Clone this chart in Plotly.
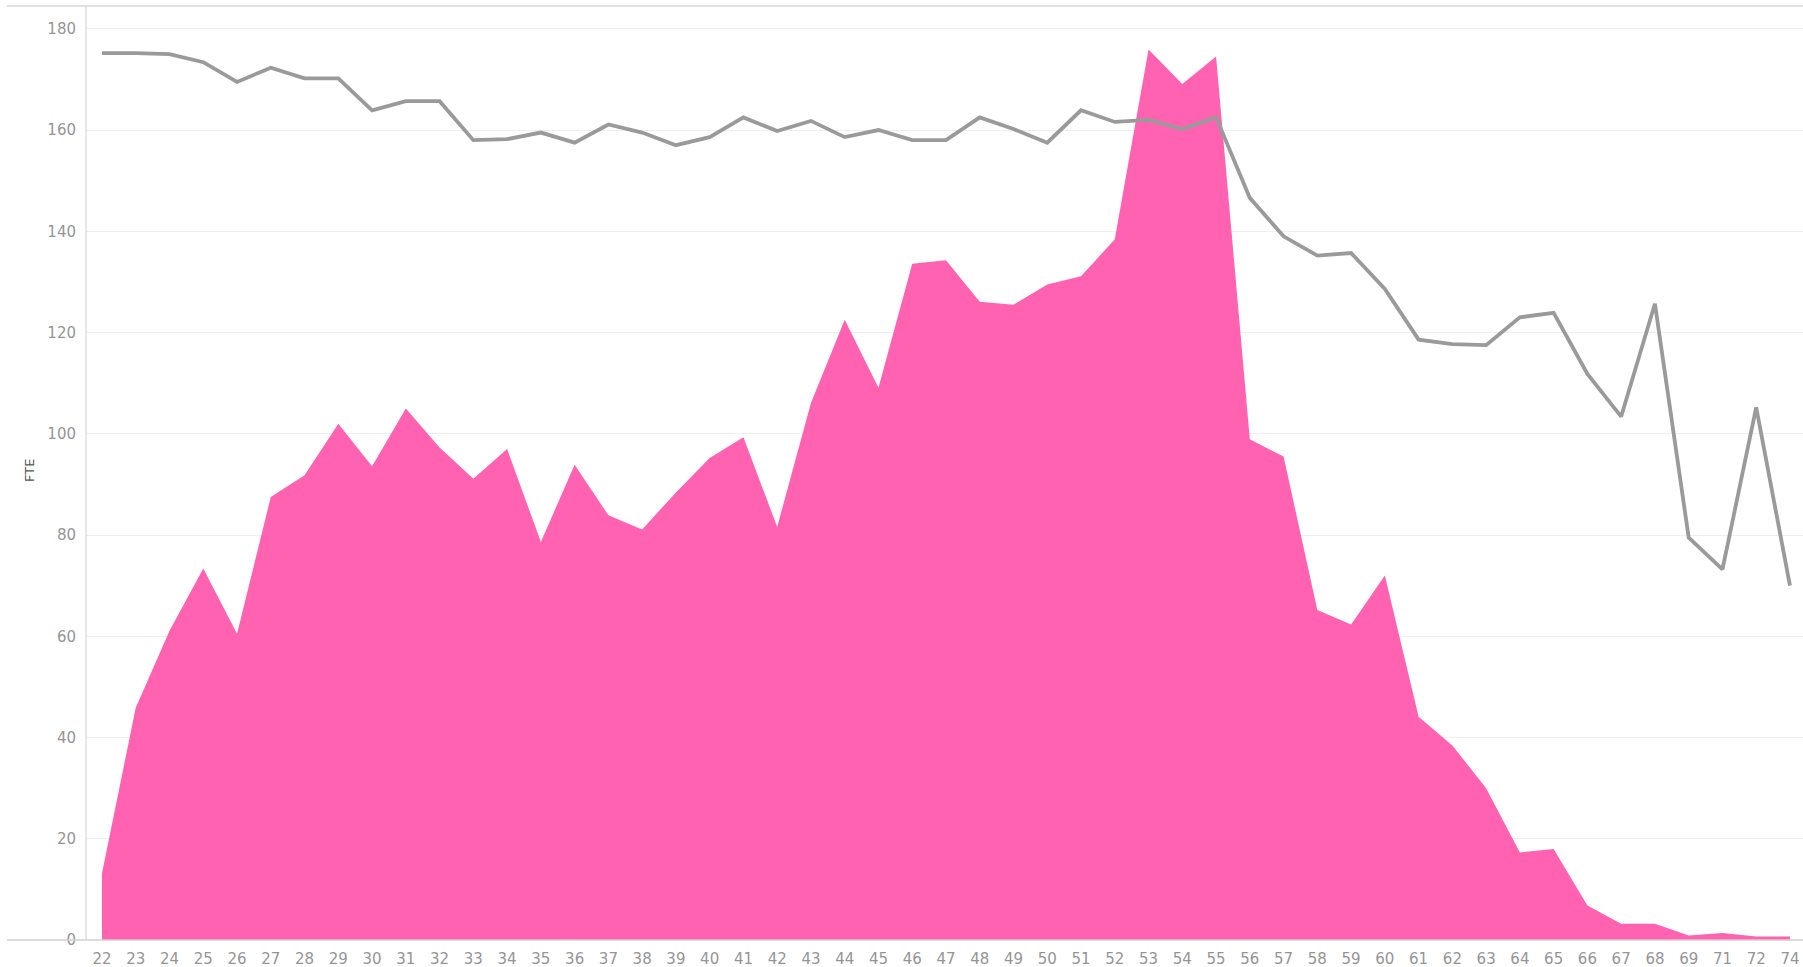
import plotly.graph_objects as go

ages = ["22", "23", "24", "25", "26", "27", "28", "29", "30", "31", "32", "33", "34",
        "35", "36", "37", "38", "39", "40", "41", "42", "43", "44", "45", "46", "47",
        "48", "49", "50", "51", "52", "53", "54", "55", "56", "57", "58", "59", "60",
        "61", "62", "63", "64", "65", "66", "67", "68", "69", "71", "72", "74"]

fte_area = [13.2, 45.9, 61.1, 73.4, 60.5, 87.5, 91.8, 102.0, 93.6, 105.0, 97.3, 91.1, 97.0,
            78.6, 93.9, 83.9, 81.1, 88.4, 95.2, 99.3, 81.6, 106.1, 122.5, 109.1, 133.6, 134.3,
            126.1, 125.5, 129.5, 131.1, 138.4, 175.9, 169.1, 174.5, 98.9, 95.5, 65.2, 62.3, 72.0,
            44.1, 38.4, 30.0, 17.3, 18.0, 6.8, 3.2, 3.2, 0.9, 1.4, 0.7, 0.7]

fte_line = [175.2, 175.2, 175.0, 173.4, 169.5, 172.3, 170.2, 170.2, 163.9, 165.7, 165.7, 158.0, 158.2,
            159.5, 157.5, 161.1, 159.5, 157.0, 158.6, 162.5, 159.8, 161.8, 158.6, 160.0, 158.0, 158.0,
            162.5, 160.2, 157.5, 163.9, 161.6, 162.0, 160.2, 162.5, 146.6, 139.0, 135.2, 135.7, 128.6,
            118.6, 117.7, 117.5, 123.0, 123.9, 111.8, 103.4, 125.7, 79.5, 73.2, 105.2, 70.0]

y_ticks = [0, 20, 40, 60, 80, 100, 120, 140, 160, 180]

fig = go.Figure()
fig.add_trace(go.Scatter(
    x=ages, y=fte_area, mode="lines", fill="tozeroy",
    line=dict(width=0, color="#ff62b0"), fillcolor="#ff62b0",
    hoverinfo="x+y", showlegend=False))
fig.add_trace(go.Scatter(
    x=ages, y=fte_line, mode="lines",
    line=dict(width=3.8, color="#9a9a9a"),
    showlegend=False))

W, H = 1803, 967
L, R, T, B = 86, 0, 6, 27
pw = W - L - R

fig.update_layout(
    width=W, height=H,
    margin=dict(l=L, r=R, t=T, b=B),
    paper_bgcolor="white", plot_bgcolor="white",
    font=dict(family="DejaVu Sans, sans-serif", color="#959595", size=15),
    xaxis=dict(type="category", categoryorder="array", categoryarray=ages,
               range=[-0.474, 50.386], showgrid=False, zeroline=False,
               showline=False, ticks="", tickfont=dict(size=15, color="#959595"),
               ticklabelstandoff=8),
    yaxis=dict(range=[0, 184.5], tickvals=y_ticks, showgrid=True,
               gridcolor="#efefef", gridwidth=1, zeroline=False,
               showline=False, ticks="", tickfont=dict(size=15, color="#959595"),
               ticklabelstandoff=9),
    annotations=[
        dict(text="FTE", xref="paper", yref="paper", x=(29 - L) / pw, y=(940 - 471) / (H - T - B),
             showarrow=False, textangle=-90, xanchor="center", yanchor="middle",
             font=dict(family="DejaVu Sans, sans-serif", size=13, color="#555555")),
    ],
    shapes=[
        dict(type="line", xref="paper", yref="paper", x0=(7 - L) / pw, x1=1, y0=0, y1=0,
             line=dict(color="#d0d0d0", width=1.5), layer="above"),
        dict(type="line", xref="paper", yref="paper", x0=(7 - L) / pw, x1=1, y0=1, y1=1,
             line=dict(color="#d6d6d6", width=1.5), layer="above"),
        dict(type="line", xref="paper", yref="paper", x0=0, x1=0, y0=0, y1=1,
             line=dict(color="#d6d6d6", width=1.2), layer="above"),
    ],
)

fig.write_html("out.html", config={"displayModeBar": False},
               post_script="document.body.style.margin='0';document.body.style.overflow='hidden';")
